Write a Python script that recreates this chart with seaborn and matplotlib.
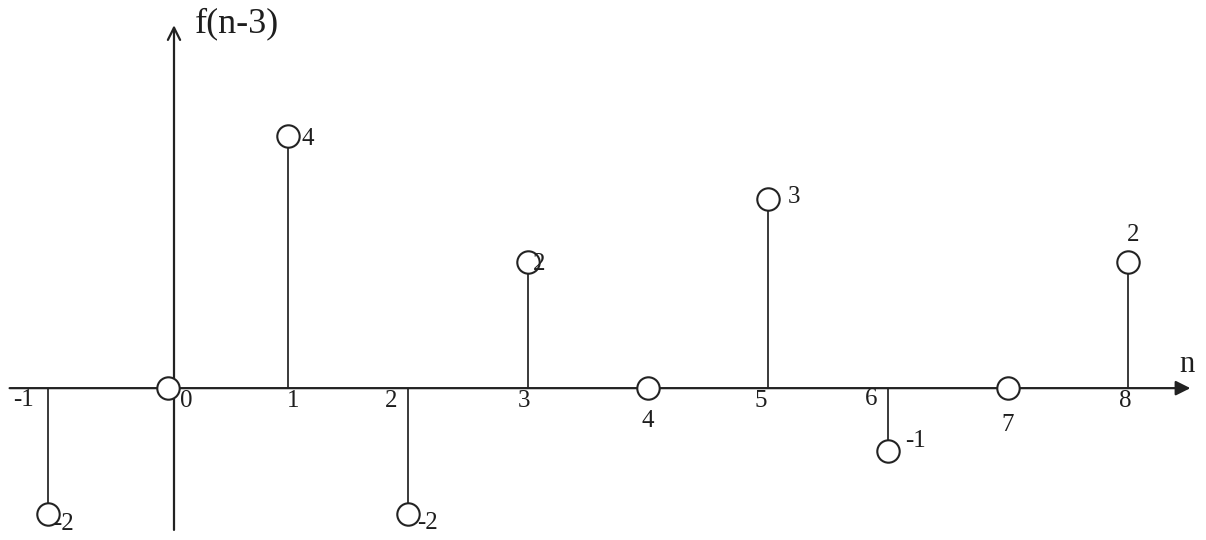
import matplotlib
matplotlib.use("Agg")
import matplotlib.pyplot as plt
import seaborn as sns
import pandas as pd

# data: discrete signal f(n-3)
n_vals = [-1, 0, 1, 2, 3, 4, 5, 6, 7, 8]
f_vals = [-2, 0, 4, -2, 2, 0, 3, -1, 0, 2]
value_labels = ["-2", "", "4", "-2", "2", "", "3", "-1", "", "2"]
n_labels = ["-1", "0", "1", "2", "3", "4", "5", "6", "7", "8"]

# label offsets in pixels (hand-drawn placement of the original)
n_off = [(-24, -12), (18, -13), (5, -13), (-17, -13), (-4, -13),
         (0, -33), (-7, -13), (-17, -11), (0, -37), (-3, -13)]
v_off = [(16, -10), (0, 0), (20, -3), (20, -9), (11, -2),
         (0, 0), (26, 2), (28, 10), (0, 0), (5, 27)]

df = pd.DataFrame({"n": n_vals, "f": f_vals})

sns.set_style("white")
plt.rcParams["font.family"] = ["Liberation Serif", "DejaVu Serif"]

fig = plt.figure(figsize=(12.06, 5.40), dpi=100)
ax = fig.add_axes([0, 0, 1, 1])
ax.set_xlim(-1.4, 8.65)
ax.set_ylim(-2.41, 6.16)
ax.axis("off")

line_col = "#3a3a3a"
txt_col = "#1e1e1e"

# axes with arrows
ax.annotate("", xy=(8.52, 0), xytext=(-1.32, 0),
            arrowprops=dict(arrowstyle="-|>", color="#222222", lw=1.6,
                            mutation_scale=22, shrinkA=0, shrinkB=0))
ax.annotate("", xy=(0.05, 5.76), xytext=(0.05, -2.25),
            arrowprops=dict(arrowstyle="->", color="#222222", lw=1.6,
                            mutation_scale=22, shrinkA=0, shrinkB=0))

# stems
for n, f in zip(n_vals, f_vals):
    if f != 0:
        ax.vlines(n, 0, f, color=line_col, lw=1.4, zorder=2)

sns.scatterplot(data=df, x="n", y="f", ax=ax, s=260, marker="o",
                facecolor="white", edgecolor="#222222", linewidth=1.5,
                zorder=3, legend=False)

for i, (n, f) in enumerate(zip(n_vals, f_vals)):
    ax.annotate(n_labels[i], (n, 0), xytext=n_off[i], textcoords="offset pixels",
                ha="center", va="center", fontsize=18, color=txt_col)
    if value_labels[i]:
        ax.annotate(value_labels[i], (n, f), xytext=v_off[i], textcoords="offset pixels",
                    ha="center", va="center", fontsize=18, color=txt_col)

ax.text(195 / 1206, 1 - 24 / 540, "f(n-3)", transform=ax.transAxes,
        ha="left", va="center", fontsize=26, color=txt_col)
ax.text(1187 / 1206, 1 - 365 / 540, "n", transform=ax.transAxes,
        ha="center", va="center", fontsize=22, color=txt_col)

fig.savefig("out.png", dpi=100, facecolor="white")
